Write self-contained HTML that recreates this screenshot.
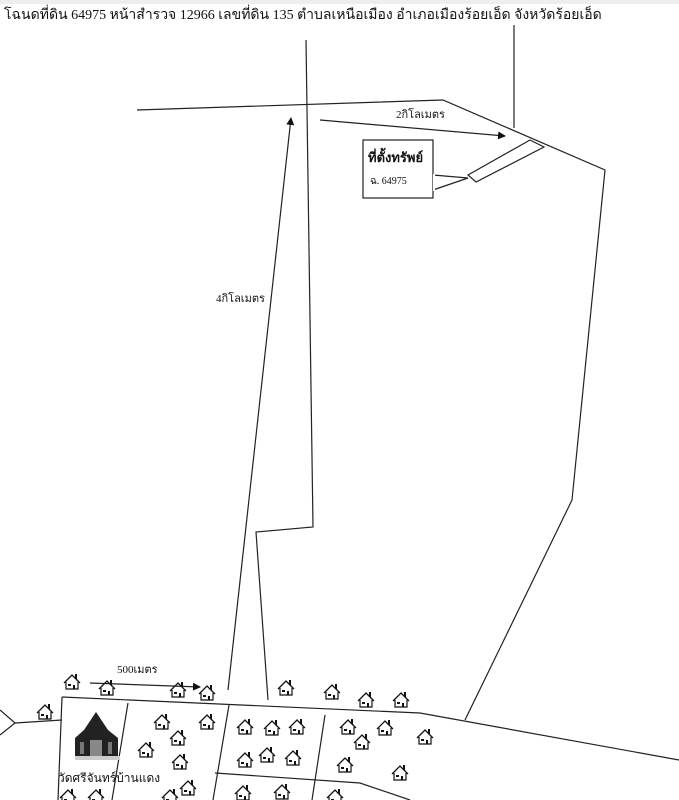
<!DOCTYPE html>
<html><head><meta charset="utf-8"><style>
html,body{margin:0;padding:0;background:#fff;}
svg{display:block;}
text{font-family:"Liberation Serif","Noto Serif CJK SC","Noto Sans CJK SC",serif;fill:#111;}
</style></head><body>
<svg width="679" height="800" viewBox="0 0 679 800" xmlns="http://www.w3.org/2000/svg">
<defs>
<marker id="ar" markerWidth="8" markerHeight="8" refX="7" refY="4" orient="auto" markerUnits="userSpaceOnUse"><path d="M0,0 L8,4 L0,8 Z" fill="#111"/></marker>
<g id="h">
<path d="M-8,1 L0,-7 L8,1" fill="none" stroke="#111" stroke-width="1.3"/>
<path d="M-6,0 L-6,7 L6,7 L6,0" fill="none" stroke="#111" stroke-width="1.2"/>
<rect x="3" y="-8" width="2" height="5" fill="#111"/>
<rect x="-4" y="2" width="3" height="2" fill="#111"/>
<rect x="1" y="3" width="2" height="4" fill="#111"/>
</g>
</defs>
<rect x="0" y="0" width="679" height="4" fill="#eee"/>
<text x="4" y="19" font-size="14">โฉนดที่ดิน 64975   หน้าสำรวจ 12966   เลขที่ดิน 135  ตำบลเหนือเมือง  อำเภอเมืองร้อยเอ็ด   จังหวัดร้อยเอ็ด</text>
<g fill="none" stroke="#222" stroke-width="1.2">
<polyline points="306,40 313,527 256,532 268,700"/>
<polyline points="137,110 443,100 605,170 572,500 465,720"/>
<line x1="514" y1="25" x2="514" y2="128"/>
<line x1="228" y1="690" x2="291" y2="118" marker-end="url(#ar)"/>
<line x1="320" y1="120" x2="505" y2="136" marker-end="url(#ar)"/>
<polygon points="468,175 530,140 544,147 476,182"/>
<rect x="363" y="140" width="70" height="58" fill="#fff"/>
<polyline points="433,175 468,178 433,190"/>
<polyline points="62,697 420,713 679,760"/>
<polyline points="215,773 360,783 410,800"/>
<polyline points="0,710 15,723 0,735"/>
<line x1="15" y1="723" x2="62" y2="720"/>
<line x1="62" y1="697" x2="58" y2="800"/>
<line x1="128" y1="703" x2="112" y2="800"/>
<line x1="229" y1="705" x2="213" y2="800"/>
<line x1="325" y1="715" x2="312" y2="800"/>
<line x1="90" y1="683" x2="200" y2="687" marker-end="url(#ar)"/>
</g>
<rect x="433" y="174" width="2" height="17" fill="#fff"/>
<text x="368" y="162" font-size="13" font-weight="bold">ที่ตั้งทรัพย์</text>
<text x="370" y="184" font-size="10">ฉ. 64975</text>
<text x="396" y="118" font-size="11">2กิโลเมตร</text>
<text x="216" y="302" font-size="11">4กิโลเมตร</text>
<text x="117" y="673" font-size="11">500เมตร</text>
<text x="58" y="782" font-size="12">วัดศรีจันทร์บ้านแดง</text>
<g>
<path d="M75,756 L118,756 L118,738 L108,730 L100,718 L96,712 L92,718 L84,730 L75,738 Z" fill="#222"/>
<rect x="90" y="740" width="12" height="16" fill="#888"/>
<rect x="80" y="742" width="4" height="12" fill="#777"/>
<rect x="108" y="742" width="4" height="12" fill="#777"/>
<rect x="75" y="756" width="45" height="4" fill="#ccc"/>
</g>
<g>
<use href="#h" x="72" y="682"/><use href="#h" x="107" y="688"/><use href="#h" x="178" y="690"/><use href="#h" x="207" y="693"/>
<use href="#h" x="45" y="712"/><use href="#h" x="162" y="722"/><use href="#h" x="178" y="738"/><use href="#h" x="207" y="722"/>
<use href="#h" x="146" y="750"/><use href="#h" x="180" y="762"/><use href="#h" x="188" y="788"/>
<use href="#h" x="286" y="688"/><use href="#h" x="332" y="692"/><use href="#h" x="366" y="700"/><use href="#h" x="401" y="700"/>
<use href="#h" x="245" y="727"/><use href="#h" x="272" y="728"/><use href="#h" x="297" y="727"/>
<use href="#h" x="245" y="760"/><use href="#h" x="267" y="755"/><use href="#h" x="293" y="758"/>
<use href="#h" x="348" y="727"/><use href="#h" x="385" y="728"/><use href="#h" x="362" y="742"/><use href="#h" x="425" y="737"/>
<use href="#h" x="345" y="765"/><use href="#h" x="400" y="773"/><use href="#h" x="243" y="793"/><use href="#h" x="282" y="792"/>
<use href="#h" x="68" y="797"/><use href="#h" x="96" y="797"/><use href="#h" x="170" y="797"/><use href="#h" x="335" y="797"/>
</g>
</svg>
</body></html>
